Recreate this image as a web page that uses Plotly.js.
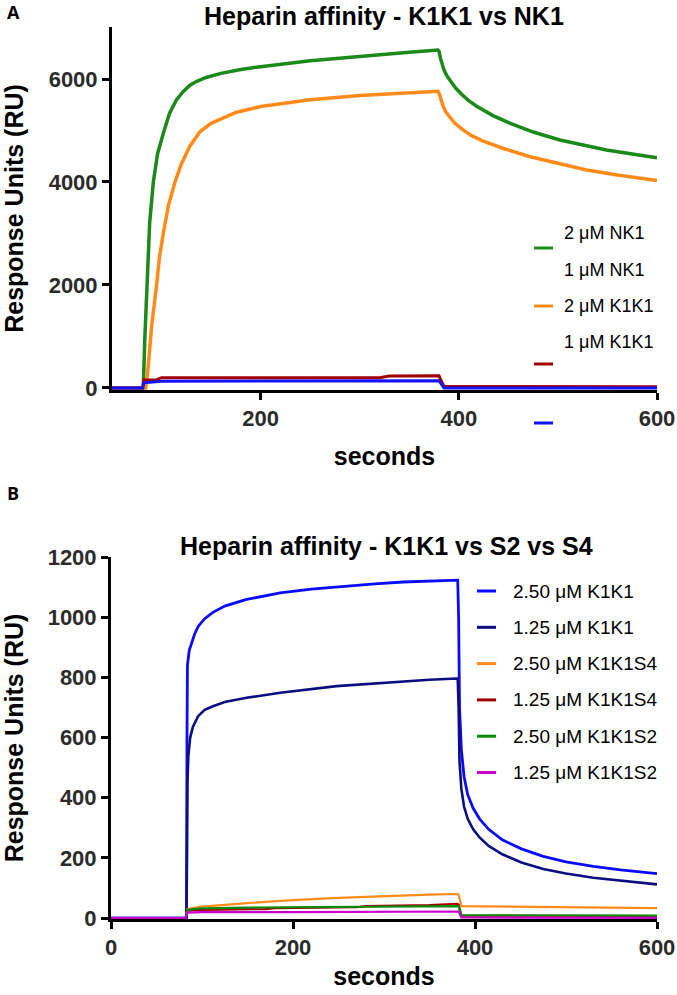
<!DOCTYPE html>
<html>
<head>
<meta charset="utf-8">
<script src="https://cdn.plot.ly/plotly-3.0.1.min.js"></script>
<style>html,body{margin:0;padding:0;background:#fff;}#chart{width:677px;height:995px;}</style>
</head>
<body>
<div id="chart"></div>
<script>
// ---------- Panel A data (Heparin affinity - K1K1 vs NK1) ----------
const namesA = ["2 \u03bcM NK1", "1 \u03bcM NK1", "2 \u03bcM K1K1", "1 \u03bcM K1K1"];
const colorsA = ["#1b8a1b", "#ff8c1a", "#a30000", "#1212ff"];

const tA_nk1_2 = [50, 81.6, 83, 85, 88, 91.7, 96, 101.8, 108, 115, 122, 128.7, 135, 145, 160, 180, 200, 250, 300, 350, 379, 380, 381.5, 383, 385, 388, 392, 397, 403, 410, 418, 435, 452, 475, 502, 525, 549, 575, 600];
const yA_nk1_2 = [0, 0, 900, 2000, 3200, 4000, 4550, 4945, 5330, 5592, 5760, 5880, 5950, 6030, 6110, 6185, 6240, 6355, 6445, 6520, 6563, 6540, 6400, 6290, 6180, 6060, 5940, 5820, 5700, 5580, 5470, 5285, 5140, 4970, 4816, 4715, 4621, 4545, 4470];

const tA_nk1_1 = [50, 84, 86, 90, 95, 98, 101.8, 107, 113.6, 120, 128.7, 139, 150, 175, 200, 250, 300, 350, 379, 380.5, 382, 384, 387, 391, 396, 403, 412, 424, 445, 472, 500, 529, 560, 600];
const yA_nk1_1 = [0, 0, 300, 1200, 2000, 2550, 3004, 3550, 4000, 4350, 4700, 4980, 5140, 5350, 5465, 5595, 5680, 5735, 5760, 5700, 5590, 5480, 5360, 5250, 5140, 5030, 4910, 4800, 4650, 4491, 4360, 4233, 4135, 4030];

const tA_k1k1_2 = [50, 81, 82, 95, 100, 320, 330, 380, 382, 385, 600];
const yA_k1k1_2 = [0, 0, 155, 160, 200, 200, 230, 235, 150, 30, 25];

const tA_k1k1_1 = [50, 81, 82, 100, 380, 382, 385, 600];
const yA_k1k1_1 = [0, 0, 100, 130, 140, 80, 0, 0];

const xTicksA = [200, 400, 600];
const yTicksA = [0, 2000, 4000, 6000];

// ---------- Panel B data (Heparin affinity - K1K1 vs S2 vs S4) ----------
const namesB = ["2.50 \u03bcM K1K1", "1.25 \u03bcM K1K1", "2.50 \u03bcM K1K1S4", "1.25 \u03bcM K1K1S4", "2.50 \u03bcM K1K1S2", "1.25 \u03bcM K1K1S2"];
const colorsB = ["#0a0aff", "#0d0d80", "#ff8c1a", "#a30000", "#0a8a0a", "#cc00cc"];

const tB_k1k1_250 = [0, 83, 83.5, 84, 86, 88.7, 92, 96, 103, 112, 125, 149, 186, 220, 255, 290, 321, 350, 380, 381, 382, 383, 385, 388, 392, 398, 405, 415, 430, 451, 475, 500, 530, 560, 600];
const yB_k1k1_250 = [0, 0, 600, 840, 890, 916, 945, 970, 995, 1016, 1037, 1059, 1081, 1093, 1103, 1111, 1117, 1120, 1123, 1123, 1000, 700, 560, 470, 410, 365, 330, 295, 260, 230, 205, 187, 172, 160, 148];

const tB_k1k1_125 = [0, 83, 84, 85, 87, 90, 95.7, 103, 112, 125, 149, 186, 248, 290, 321, 350, 380, 381, 382, 383, 385, 388, 392, 398, 405, 415, 430, 451, 475, 500, 530, 560, 600];
const yB_k1k1_125 = [0, 0, 450, 540, 600, 635, 671, 692, 704, 718, 732, 749, 771, 780, 787, 792, 796, 796, 700, 520, 430, 370, 330, 295, 268, 240, 212, 185, 163, 148, 134, 124, 112];

const tB_s4_250 = [0, 82, 84, 100, 150, 200, 250, 300, 350, 380, 382, 385, 450, 500, 600];
const yB_s4_250 = [0, 0, 30, 38, 50, 60, 67, 73, 78, 80, 78, 40, 38, 37, 33];

const tB_s4_125 = [0, 82, 84, 100, 170, 180, 270, 280, 350, 370, 380, 382, 385, 600];
const yB_s4_125 = [0, 0, 25, 27, 30, 33, 36, 40, 43, 47, 47, 45, 8, 7];

const tB_s2_250 = [0, 82, 84, 100, 150, 200, 300, 380, 382, 385, 600];
const yB_s2_250 = [0, 0, 28, 32, 35, 36, 38, 40, 40, 10, 8];

const tB_s2_125 = [0, 82, 84, 100, 200, 300, 380, 382, 385, 600];
const yB_s2_125 = [0, 0, 18, 20, 20, 21, 22, 22, 2, 1];

const xTicksB = [0, 200, 400, 600];
const yTicksB = [0, 200, 400, 600, 800, 1000, 1200];

// ---------- build ----------
const W = 677, H = 995;
const px = v => v / W;
const py = v => 1 - v / H;

const seriesA = [[tA_nk1_2, yA_nk1_2, 3.5], [tA_nk1_1, yA_nk1_1, 3.5], [tA_k1k1_2, yA_k1k1_2, 3], [tA_k1k1_1, yA_k1k1_1, 3]];
const seriesB = [[tB_k1k1_250, yB_k1k1_250, 2.8], [tB_k1k1_125, yB_k1k1_125, 2.6], [tB_s4_250, yB_s4_250, 2.2], [tB_s4_125, yB_s4_125, 2.2], [tB_s2_250, yB_s2_250, 2.2], [tB_s2_125, yB_s2_125, 2.2]];

const traces = [];
seriesA.forEach((s, i) => traces.push({
  x: s[0], y: s[1], type: "scatter", mode: "lines", name: namesA[i],
  line: {color: colorsA[i], width: s[2]}, xaxis: "x", yaxis: "y", showlegend: false
}));
seriesB.forEach((s, i) => traces.push({
  x: s[0], y: s[1], type: "scatter", mode: "lines", name: namesB[i],
  line: {color: colorsB[i], width: s[2]}, xaxis: "x2", yaxis: "y2", showlegend: false
}));

const SANS = "'Liberation Sans', Arial, sans-serif";
const tickFont = {family: SANS, size: 22, color: "#2b2b2b", weight: "bold"};
const titleFont = {family: SANS, size: 25, color: "#000", weight: "bold"};
const axisCommon = {
  showline: true, linecolor: "#000", linewidth: 3, ticks: "outside", ticklen: 7, tickwidth: 3,
  tickcolor: "#000", showgrid: false, zeroline: false, tickfont: tickFont, automargin: false, fixedrange: true
};

const annotations = [];
const shapes = [];
const panelFont = {family: "'Open Sans', Arial", size: 18, color: "#000", weight: "bold"};
annotations.push({text: "A", x: px(5), y: py(12), xref: "paper", yref: "paper", xanchor: "left", yanchor: "middle", showarrow: false, font: panelFont});
annotations.push({text: "B", x: px(5), y: py(493), xref: "paper", yref: "paper", xanchor: "left", yanchor: "middle", showarrow: false, font: panelFont});
const headFont = {family: SANS, size: 25, color: "#000", weight: "bold"};
annotations.push({text: "Heparin affinity - K1K1 vs NK1", x: px(384), y: py(16), xref: "paper", yref: "paper", xanchor: "center", yanchor: "middle", showarrow: false, font: headFont});
annotations.push({text: "Heparin affinity - K1K1 vs S2 vs S4", x: px(386), y: py(546), xref: "paper", yref: "paper", xanchor: "center", yanchor: "middle", showarrow: false, font: headFont});

// custom legends (positions as in the original figure)
const legTextYA = [233, 270, 306, 342];
const legSwYA = [248, 306, 364, 423];
namesA.forEach((n, i) => {
  annotations.push({text: n, x: px(562), y: py(legTextYA[i]), xref: "paper", yref: "paper", xanchor: "left", yanchor: "middle", showarrow: false, font: {family: SANS, size: 18, color: "#000"}});
  shapes.push({type: "line", xref: "paper", yref: "paper", x0: px(534), x1: px(553), y0: py(legSwYA[i]), y1: py(legSwYA[i]), line: {color: colorsA[i], width: 3}});
});
namesB.forEach((n, i) => {
  const yy = 591 + i * 36.3;
  annotations.push({text: n, x: px(511), y: py(yy), xref: "paper", yref: "paper", xanchor: "left", yanchor: "middle", showarrow: false, font: {family: SANS, size: 19, color: "#000"}});
  shapes.push({type: "line", xref: "paper", yref: "paper", x0: px(477), x1: px(496), y0: py(yy), y1: py(yy), line: {color: colorsB[i], width: 3}});
});

const layout = {
  width: W, height: H, margin: {l: 0, r: 0, t: 0, b: 0}, paper_bgcolor: "#fff", plot_bgcolor: "#fff", showlegend: false,
  font: {family: SANS},
  xaxis: Object.assign({}, axisCommon, {domain: [px(112), px(657)], range: [50, 600], tickvals: xTicksA, anchor: "y",
    title: {text: "seconds", font: titleFont, standoff: 18}}),
  yaxis: Object.assign({}, axisCommon, {domain: [py(390), py(27)], range: [-40, 7010], tickvals: yTicksA, anchor: "x",
    title: {text: "Response Units (RU)", font: titleFont, standoff: 18}}),
  xaxis2: Object.assign({}, axisCommon, {domain: [px(111), px(657)], range: [0, 600], tickvals: xTicksB, anchor: "y2",
    title: {text: "seconds", font: titleFont, standoff: 9}}),
  yaxis2: Object.assign({}, axisCommon, {domain: [py(919), py(557)], range: [-3, 1200], tickvals: yTicksB, anchor: "x2",
    title: {text: "Response Units (RU)", font: titleFont, standoff: 18}}),
  annotations: annotations, shapes: shapes
};

Plotly.newPlot("chart", traces, layout, {displayModeBar: false, staticPlot: true});
</script>
</body>
</html>
